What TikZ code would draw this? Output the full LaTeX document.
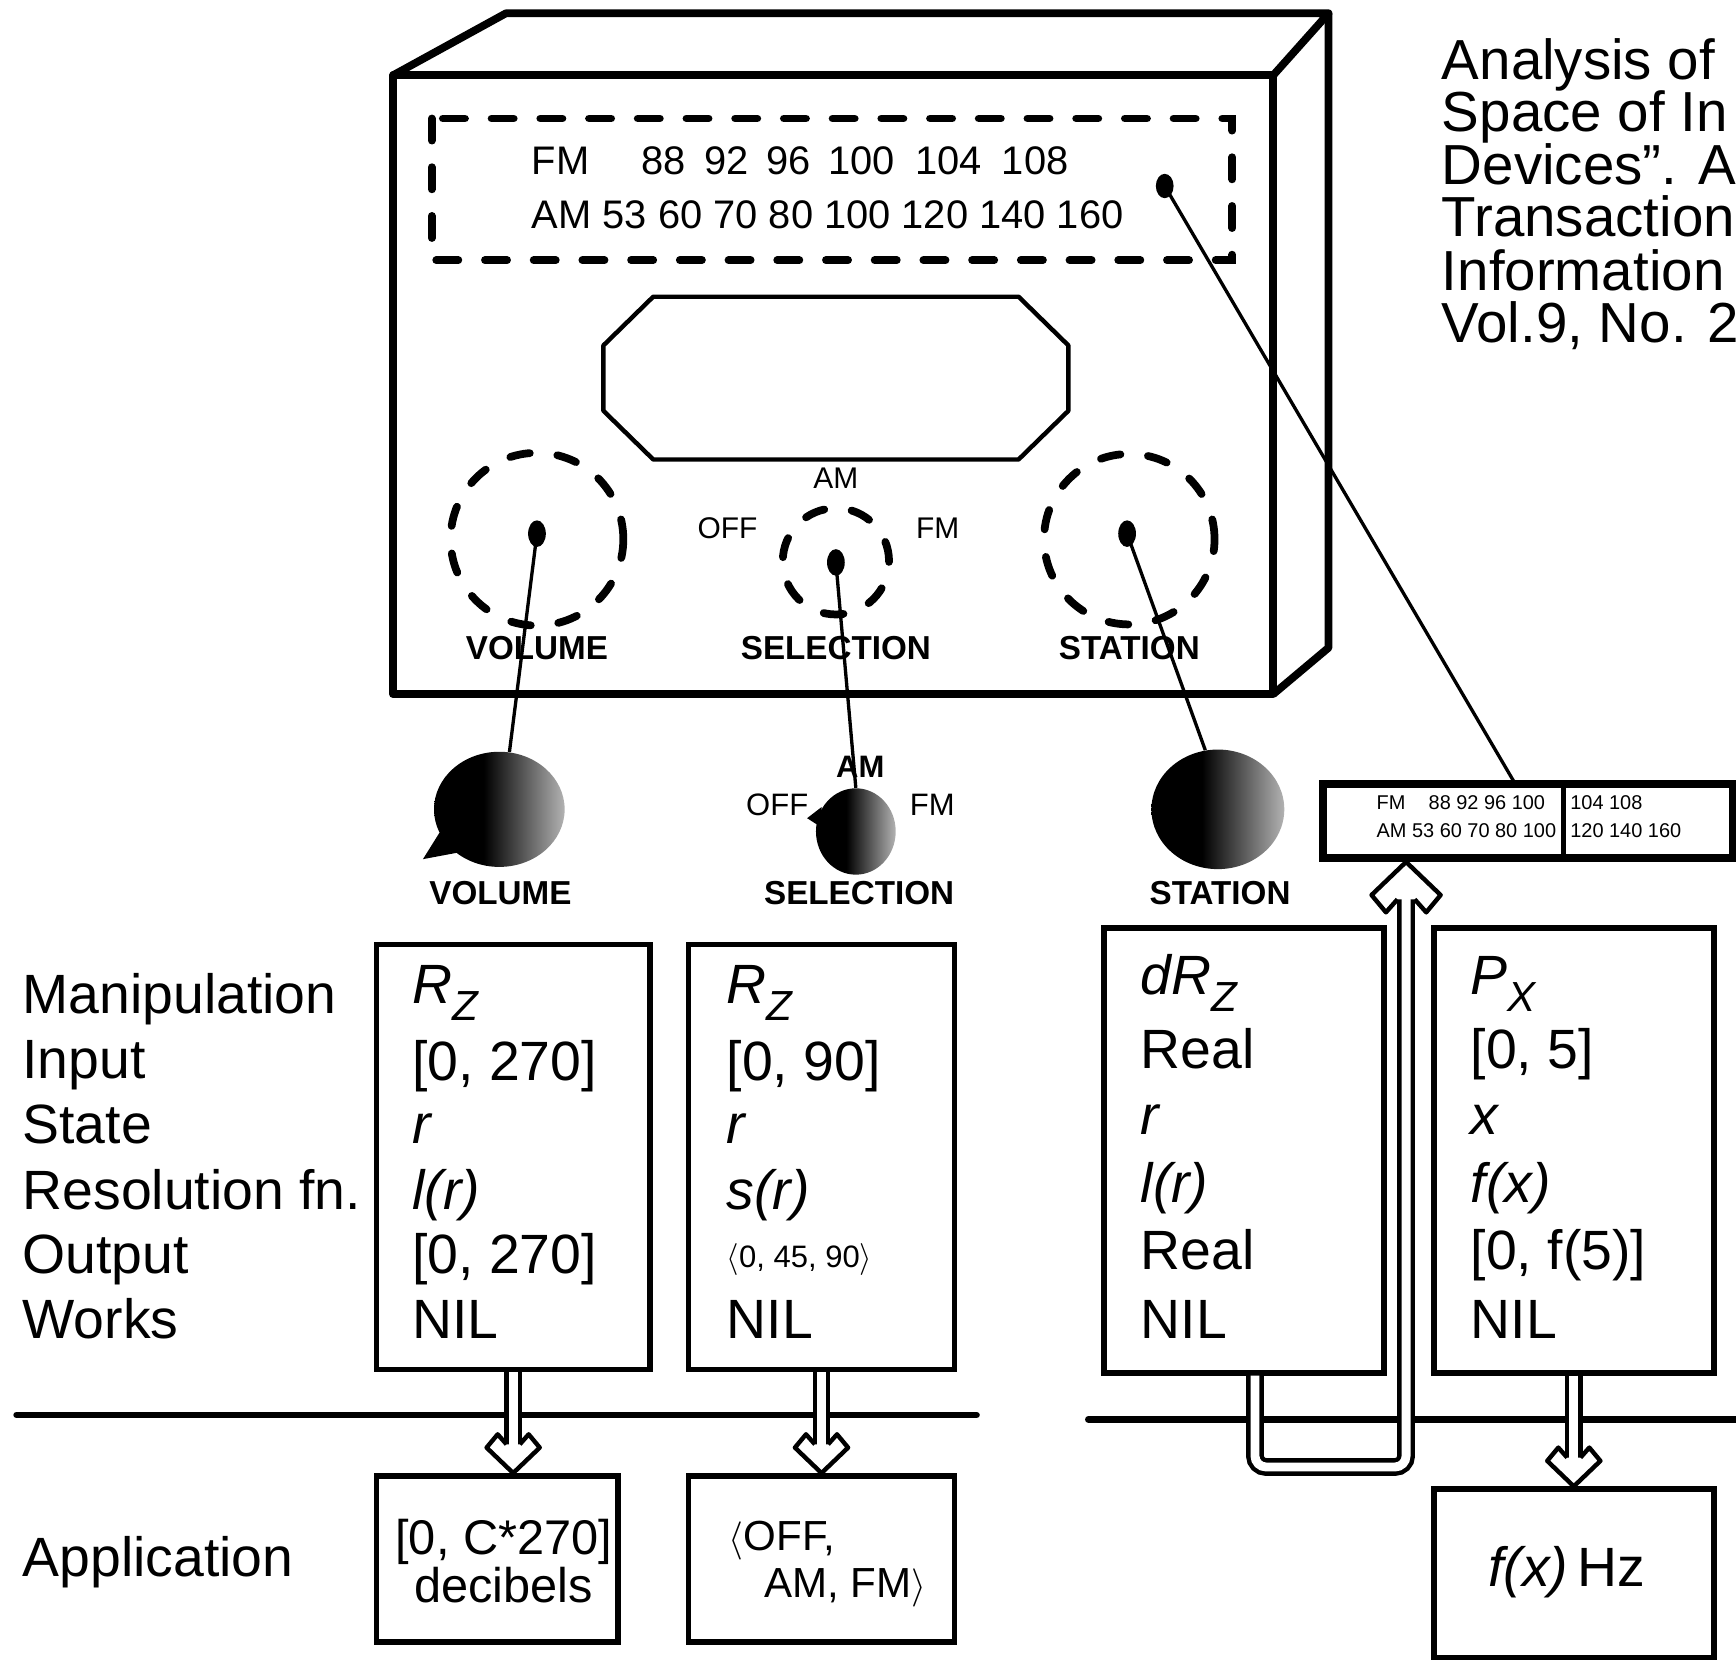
\documentclass[tikz,border=0pt]{standalone}
\usepackage{fontspec}
\setmainfont{Liberation Sans}
\usetikzlibrary{shapes.geometric, arrows.meta, positioning, calc}

\newcommand{\itsub}[2]{\textit{#1}\raisebox{-0.32em}{\fontsize{19}{19}\selectfont\textit{#2}}}
\pgfdeclarehorizontalshading{knobshade}{100bp}{color(0bp)=(black); color(44bp)=(black); color(75bp)=(black!30); color(100bp)=(black!30)}

\begin{document}
\begin{tikzpicture}[
      x=0.5pt, y=-0.5pt,
      radio/.style   ={line width=3.5pt, line join=round},
      infobox/.style ={rectangle, draw, line width=2.5pt, inner sep=0pt},
      dashring/.style={circle, draw, line width=3.5pt, line cap=round, dash pattern=on 9pt off 12.5pt, inner sep=0pt},
      knobdot/.style ={ellipse, fill=black, minimum width=8pt, minimum height=12pt, inner sep=0pt},
      knobball/.style={ellipse, inner sep=0pt, shading=knobshade},
      wire/.style    ={line width=1.5pt},
      pipe/.style    ={line width=2pt, double=white, double distance=4pt},
      divider/.style ={line width=3pt, line cap=round},
      rowtext/.style ={anchor=base west, inner sep=0pt, font=\fontsize{25}{30}\selectfont},
      citetext/.style={anchor=base west, inner sep=0pt, font=\fontsize{25.5}{28}\selectfont},
      tuning/.style  ={inner sep=0pt, font=\fontsize{18}{20}\selectfont},
      tinytext/.style={anchor=base west, inner sep=0pt, font=\fontsize{9}{10}\selectfont},
      ctrl/.style    ={inner sep=0pt, font=\bfseries\fontsize{15}{18}\selectfont},
      knobtext/.style={inner sep=0pt, font=\fontsize{13.5}{16}\selectfont},
      hollowhead/.pic={
        \filldraw[fill=white, line width=2pt, line join=round]
          (-6,-26) -- (-14,-35) -- (-24,-23) -- (0,0) -- (24,-23) -- (14,-35) -- (6,-26);
      }
    ]

    \useasboundingbox (0,0) rectangle (1568,1500);

    % Radio cabinet
    \draw[radio] (355,68) rectangle (1150,627);
    \draw[radio] (355,68) -- (457,12) -- (1200,12) -- (1150,68);
    \draw[radio] (1200,12) -- (1200,585) -- (1150,627);

    % Tuning scale
    \draw[line width=3.5pt, line cap=round, dash pattern=on 10pt off 12pt] (390,107) rectangle (1113,235);
    \node[tuning, anchor=base west] (fmlab) at (480,158) {FM};
    \foreach \f/\x in {88/599, 92/656, 96/712, 100/778, 104/857, 108/935}
      \node[tuning, anchor=base] (fm\f) at (\x,158) {\f};
    \node[tuning, anchor=base west] (amrow) at (480,206) {AM 53 60 70 80 100 120 140 160};
    \node[knobdot, minimum height=11pt] (dialdot) at (1052,168) {};

    % Window
    \draw[line width=2pt, line join=round] (590,268) -- (920,268) -- (965,312) -- (965,371)
      -- (920,415) -- (590,415) -- (545,371) -- (545,312) -- cycle;

    % Knobs on the cabinet
    \node[dashring, minimum size=78pt] (vring) at (485,487) {};
    \node[dashring, minimum size=48pt] (sring) at (755,507) {};
    \node[dashring, minimum size=77pt] (tring) at (1020,487) {};
    \node[knobdot] (vdot) at (485,482) {};
    \node[knobdot] (sdot) at (755,508) {};
    \node[knobdot] (tdot) at (1018,482) {};
    \node[knobtext] (amtop)  at (755,432) {AM};
    \node[knobtext] (offtop) at (657,477) {OFF};
    \node[knobtext] (fmtop)  at (847,477) {FM};
    \node[ctrl] (vtop) at (485,585) {VOLUME};
    \node[ctrl] (stop) at (755,585) {SELECTION};
    \node[ctrl] (ttop) at (1020,585) {STATION};

    % Knobs taken out
    \node[knobball, minimum width=59pt, minimum height=52pt] (vball) at (451,731) {};
    \node[knobball, minimum width=36pt, minimum height=39pt] (sball) at (773,751) {};
    \node[knobball, minimum width=60pt, minimum height=54pt] (tball) at (1100,731) {};
    \fill (397,752) -- (382,776) -- (414,770) -- cycle;
    \fill (742,729) -- (729,739) -- (743,748) -- cycle;
    \draw[wire] (vdot.center) -- (vball.80);
    \draw[wire] (sdot.center) -- (sball.north);
    \draw[wire] (tdot.center) -- (tball.102);
    \node[ctrl, font=\bfseries\fontsize{14}{16}\selectfont] (amlow) at (777,693) {AM};
    \node[knobtext, font=\fontsize{14}{16}\selectfont] (offlow) at (702,727) {OFF};
    \node[knobtext, font=\fontsize{14}{16}\selectfont] (fmlow)  at (842,727) {FM};
    \node[ctrl] (vname) at (452,807) {VOLUME};
    \node[ctrl] (sname) at (776,807) {SELECTION};
    \node[ctrl] (tname) at (1102,807) {STATION};

    % Scale taken out
    \node[rectangle, draw, line width=3.5pt, minimum width=185pt, minimum height=33.5pt, inner sep=0pt] (dialbox) at (1380,741.5) {};
    \draw[line width=2pt] (1412,711) -- (1412,772);
    \node[tinytext] (dfm)   at (1243,731) {FM};
    \node[tinytext] (dfmlo) at (1290,731) {88 92 96 100};
    \node[tinytext] (dfmhi) at (1418,731) {104 108};
    \node[tinytext] (damlo) at (1243,756) {AM 53 60 70 80 100};
    \node[tinytext] (damhi) at (1418,756) {120 140 160};
    \coordinate (dialend) at (1368,707);
    \draw[wire] (dialdot.center) -- (dialend);

    % Citation
    \node[citetext] (cite1) at (1302,72)  {Analysis of};
    \node[citetext] (cite2) at (1302,119) {Space of In};
    \node[citetext] (cite3) at (1302,167) {Devices”. A};
    \node[citetext] (cite4) at (1302,214) {Transaction};
    \node[citetext] (cite5) at (1302,262) {Information};
    \node[citetext] (cite6) at (1302,309) {Vol.9, No. 2};

    % Row labels
    \foreach \t/\y [count=\i] in {Manipulation/915, Input/974, State/1033, Resolution fn./1092, Output/1150, Works/1209}
      \node[rowtext] (lab\i) at (20,\y) {\t};
    \node[rowtext] (applab) at (20,1424) {Application};

    % Device boxes
    \node[infobox, minimum width=123.5pt, minimum height=192pt] (volbox) at (463.5,1045) {};
    \node[infobox, minimum width=120pt,   minimum height=192pt] (selbox) at (742,1045) {};
    \node[infobox, minimum width=126.5pt, minimum height=201pt] (stabox) at (1123.5,1039) {};
    \node[infobox, minimum width=126.5pt, minimum height=201pt] (pxbox)  at (1421.5,1039) {};

    \node[rowtext] (v1) at (372,906)  {\itsub{R}{Z}};
    \node[rowtext] (v2) at (372,976)  {[0, 270]};
    \node[rowtext] (v3) at (372,1033) {\textit{r}};
    \node[rowtext] (v4) at (372,1092) {\textit{l(r)}};
    \node[rowtext] (v5) at (372,1150) {[0, 270]};
    \node[rowtext] (v6) at (372,1209) {NIL};

    \node[rowtext] (s1) at (656,906)  {\itsub{R}{Z}};
    \node[rowtext] (s2) at (656,976)  {[0, 90]};
    \node[rowtext] (s3) at (656,1033) {\textit{r}};
    \node[rowtext] (s4) at (656,1092) {\textit{s(r)}};
    \node[rowtext, font=\fontsize{14}{16}\selectfont] (s5) at (656,1145) {$\langle$0, 45, 90$\rangle$};
    \node[rowtext] (s6) at (656,1209) {NIL};

    \node[rowtext] (t1) at (1030,898)  {\itsub{dR}{Z}};
    \node[rowtext] (t2) at (1030,965)  {Real};
    \node[rowtext] (t3) at (1030,1025) {\textit{r}};
    \node[rowtext] (t4) at (1030,1086) {\textit{l(r)}};
    \node[rowtext] (t5) at (1030,1147) {Real};
    \node[rowtext] (t6) at (1030,1209) {NIL};

    \node[rowtext] (p1) at (1328,898)  {\itsub{P}{X}};
    \node[rowtext] (p2) at (1328,965)  {[0, 5]};
    \node[rowtext] (p3) at (1328,1025) {\textit{x}};
    \node[rowtext] (p4) at (1328,1086) {\textit{f(x)}};
    \node[rowtext] (p5) at (1328,1147) {[0, f(5)]};
    \node[rowtext] (p6) at (1328,1209) {NIL};

    % Application boxes
    \node[infobox, minimum width=109pt,   minimum height=75pt] (volapp) at (449,1408) {};
    \node[infobox, minimum width=120pt,   minimum height=75pt] (selapp) at (742,1408) {};
    \node[infobox, minimum width=126.5pt, minimum height=76pt] (hzapp)  at (1421.5,1421) {};
    \node[align=center, inner sep=0pt, font=\fontsize{22}{20}\selectfont] (voltext) at (455,1410) {[0, C*270]\\decibels};
    \node[rowtext, font=\fontsize{19}{22}\selectfont] (seltext1) at (658,1400) {$\langle$OFF,};
    \node[rowtext, font=\fontsize{19}{22}\selectfont] (seltext2) at (690,1443) {AM, FM$\rangle$};
    \node[inner sep=0pt, font=\fontsize{25}{30}\selectfont] (hztext) at (1415,1420) {\textit{f(x)}\,Hz};

    % Dividers
    \draw[divider] (15,1278) -- (882,1278);
    \draw[divider] (983,1282) -- (1568,1282);

    % Hollow arrows
    \draw[pipe, shorten >=12pt] (volbox.south) -- (volbox.south |- volapp.north);
    \pic at (volbox.south |- volapp.north) {hollowhead};
    \draw[pipe, shorten >=12pt] (selbox.south) -- (selapp.north);
    \pic at (selapp.north) {hollowhead};
    \draw[pipe, shorten >=12pt] (pxbox.south) -- (pxbox.south |- hzapp.north);
    \pic at (pxbox.south |- hzapp.north) {hollowhead};

    \coordinate (ubend) at (1270,1325);
    \draw[pipe, rounded corners=5pt, shorten >=15pt] ([xshift=5pt]stabox.south) |- (ubend) -- (dialbox.south -| ubend);
    \pic[yscale=-1, scale=1.3] at (dialbox.south -| ubend) {hollowhead};

  \end{tikzpicture}
\end{document}
